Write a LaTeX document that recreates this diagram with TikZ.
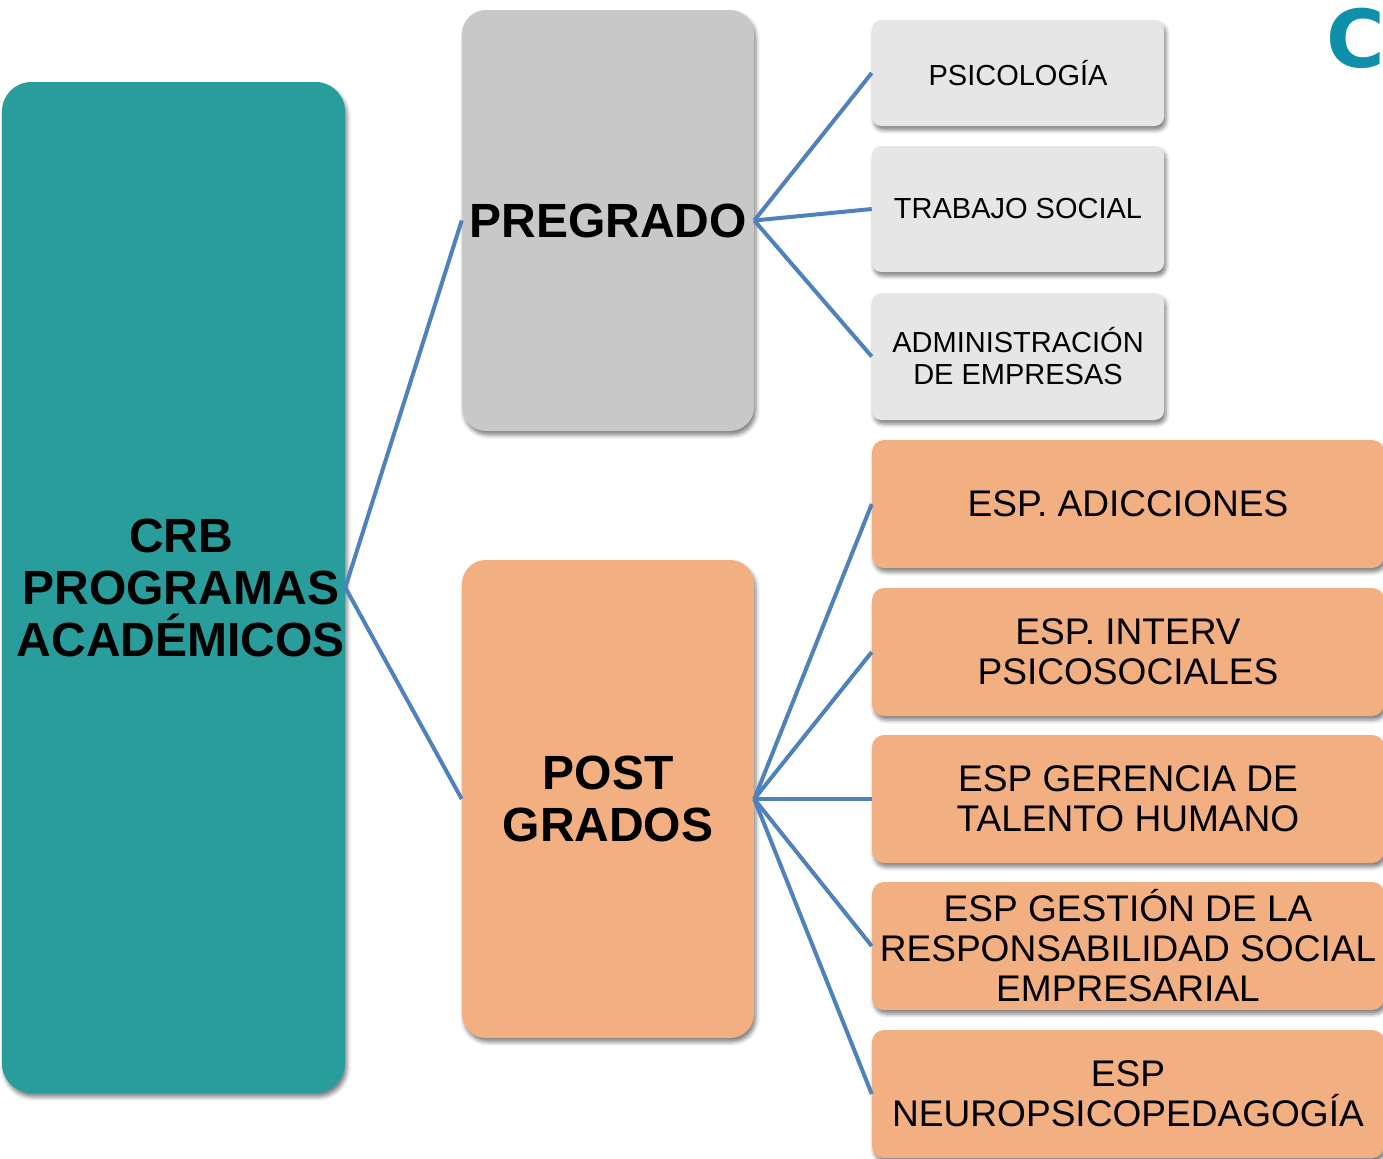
\documentclass[tikz,border=0pt]{standalone}
\usepackage{fontspec}
\setmainfont{Liberation Sans}
\newfontfamily\logofont{DejaVu Sans}
\usepackage{tikz}
\usetikzlibrary{shadows.blur}
\definecolor{crbTeal}{HTML}{289D9B}
\definecolor{preGris}{HTML}{C8C8C8}
\definecolor{cajaGris}{HTML}{E6E6E6}
\definecolor{postNaranja}{HTML}{F2AF82}
\definecolor{lineaAzul}{HTML}{4F81BD}
\definecolor{logoAzul}{HTML}{0E90AA}
\newdimen\px \px=0.75pt % ein Bildpunkt
\tikzset{
  Caja/.style={rounded corners=#1, inner sep=0pt, align=center,
    blur shadow={shadow xshift=1.5pt, shadow yshift=-3pt,
      shadow blur radius=3pt, shadow opacity=50}}, % für alle Kästen
  Raiz/.style={Caja=22pt, fill=crbTeal, minimum width=343\px,
    minimum height=1011\px},
  Titulo/.style={inner sep=0pt, align=center,
    font=\fontsize{36}{39}\selectfont\bfseries}, % fette Beschriftung
  Nivel/.style={Caja=18pt, Titulo, minimum width=292\px}, % für Pregrado/Postgrados
  Carrera/.style={Caja=7pt, fill=cajaGris, minimum width=292\px,
    font=\fontsize{21.75}{24}\selectfont},
  Esp/.style={Caja=9pt, fill=postNaranja, minimum width=512\px,
    minimum height=128\px, font=\fontsize{27.8}{30}\selectfont},
  Linea/.style={draw=lineaAzul, line width=3pt} % für Verbindungen
}
\begin{document}
\begin{tikzpicture}[x=0.75pt, y=-0.75pt]
\clip (0,0) rectangle (1383,1158);

%Kästen
\node[Raiz] (crb) at (173.5,587.5) {};
\node[Titulo] (crbtxt) at ([xshift=7.5\px]crb.center) {CRB\\PROGRAMAS\\ACADÉMICOS};

\node[Nivel, fill=preGris, minimum height=421\px] (pre) at (608,220.5) {PREGRADO};
\node[Nivel, fill=postNaranja, minimum height=478\px] (post) at (608,799) {POST\\GRADOS};

\node[Carrera, minimum height=106\px] (psi) at (1018,73) {PSICOLOGÍA};
\node[Carrera, minimum height=126\px] (ts) at (1018,209) {TRABAJO SOCIAL};
\node[Carrera, minimum height=127\px] (adm) at (1018,356.5) {ADMINISTRACIÓN\\DE EMPRESAS};

\node[Esp] (adic) at (1128,504) {ESP. ADICCIONES};
\node[Esp] (interv) at (1128,652) {ESP. INTERV\\PSICOSOCIALES};
\node[Esp] (ger) at (1128,799) {ESP GERENCIA DE\\TALENTO HUMANO};
\node[Esp] (gest) at (1128,946) {ESP GESTIÓN DE LA\\RESPONSABILIDAD SOCIAL\\EMPRESARIAL};
\node[Esp] (neuro) at (1128,1094) {ESP\\NEUROPSICOPEDAGOGÍA};

\node[text=logoAzul, inner sep=0pt, font=\logofont\bfseries\fontsize{60}{60}\selectfont] (logo) at (1356,38) {C};

%Verbindungen
\draw[Linea] (crb.east) -- (pre.west);
\draw[Linea] (crb.east) -- (post.west);
\foreach \h in {psi,ts,adm}
  \draw[Linea] (pre.east) -- (\h.west);
\foreach \h in {adic,interv,ger,gest,neuro}
  \draw[Linea] (post.east) -- (\h.west);

\end{tikzpicture}
\end{document}
